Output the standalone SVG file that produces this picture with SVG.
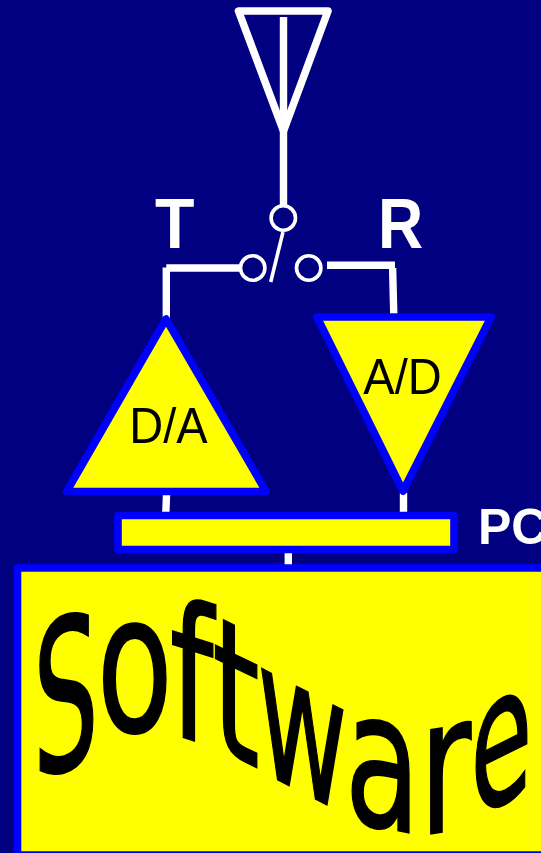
<svg xmlns="http://www.w3.org/2000/svg" width="541" height="853" viewBox="0 0 541 853">
<style>
.w{fill:none;stroke:#fff;stroke-width:7.4}
.thin{fill:none;stroke:#fff;stroke-width:3.6}
.b{fill:#ff0;stroke:#00f;stroke-width:7.6;stroke-linejoin:round}
.lab{font-family:"Liberation Sans",Arial,sans-serif;font-size:47px;fill:#000;text-anchor:middle}
.big{font-family:"Liberation Sans",Arial,sans-serif;font-weight:bold;fill:#fff}
.sw{font-family:"DejaVu Sans",sans-serif;font-size:100px;fill:#000;stroke:#000;stroke-width:1}
</style>
<rect width="541" height="853" fill="#000080"/>
<g id="connectors">
<path class="w" d="M283.500 17V206"/>
<path class="w" d="M166.300 323V267.500"/>
<path class="w" d="M166.300 268H240"/>
<path class="w" d="M327 265.300H395"/>
<path class="w" d="M392.600 268L393.800 315"/>
<path class="w" d="M166.600 493L165.800 513"/>
<path class="w" d="M403.500 493V513"/>
<path class="w" d="M288.300 552V566"/>
</g>
<g id="antenna">
<path class="w" style="stroke-width:7.600" stroke-linejoin="round" d="M238.500 11H328L283.500 131Z"/>
</g>
<g id="switch">
<circle class="thin" cx="283.300" cy="218" r="12.200"/>
<circle class="thin" cx="252.700" cy="268" r="12.200"/>
<circle class="thin" cx="308.700" cy="268" r="12.200"/>
<path class="thin" d="M283 232L270.700 282"/>
</g>
<g id="T"><text class="big" transform="matrix(.95 0 0 1.03 155 248)" font-size="68">T</text></g>
<g id="R"><text class="big" transform="matrix(.92 0 0 1.03 378 248)" font-size="68">R</text></g>
<g id="da">
<path class="b" d="M66.700 491.500H266L166 319Z"/>
<text class="lab" transform="matrix(1 0 0 1.08 168.500 443)">D/A</text>
</g>
<g id="ad">
<path class="b" d="M317 317H491L403 491Z"/>
<text class="lab" transform="matrix(1 0 0 1.08 402.500 394)">A/D</text>
</g>
<g id="pc">
<rect class="b" x="118" y="515.500" width="336" height="34"/>
<text class="big" x="478" y="544" font-size="50">PC</text>
</g>
<g id="software">
<rect class="b" x="17.500" y="568" width="600" height="287"/>
<text class="sw" transform="matrix(1.035 -.3 0 2.09 33.100 779)">S</text>
<text class="sw" transform="matrix(1.242 0 0 1.92 96.700 731)">o</text>
<text class="sw" transform="matrix(1.242 .4 0 1.88 169.700 733)">f</text>
<text class="sw" transform="matrix(1.211 .585 0 1.87 212.200 746)">t</text>
<text class="sw" transform="matrix(1.107 .567 0 1.88 257.100 769)">w</text>
<text class="sw" transform="matrix(1.232 .24 0 1.9 344.700 820)">a</text>
<text class="sw" transform="matrix(1.263 -.2 0 1.9 419.200 835.400)">r</text>
<text class="sw" transform="matrix(1.004 -.5 0 1.88 470.600 819)">e</text>
</g>
</svg>
